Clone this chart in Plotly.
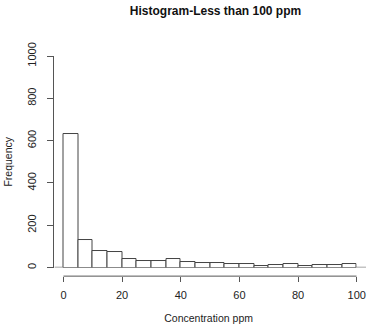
import plotly.graph_objects as go

bin_starts = [0, 5, 10, 15, 20, 25, 30, 35, 40, 45, 50, 55, 60, 65, 70, 75, 80, 85, 90, 95]
counts = [633, 131, 78, 75, 42, 33, 29, 42, 24, 20, 20, 17, 17, 9, 10, 15, 9, 10, 10, 15]
bin_width = 5
x_ticks = [0, 20, 40, 60, 80, 100]
y_ticks = [0, 200, 400, 600, 800, 1000]

W, H = 375, 333
font = "Liberation Sans, Arial, sans-serif"
axis_col = "#555555"
text_col = "#222222"

fig = go.Figure()
fig.add_trace(go.Bar(
    x=[s + bin_width / 2 for s in bin_starts],
    y=counts,
    width=bin_width,
    marker=dict(color="white", line=dict(color="#444444", width=1)),
    hoverinfo="x+y",
    cliponaxis=False,
))

fig.update_layout(
    width=W, height=H,
    margin=dict(l=0, r=0, t=0, b=0),
    paper_bgcolor="white", plot_bgcolor="white",
    showlegend=False,
    bargap=0,
    font=dict(family=font, size=11, color=text_col),
    title=dict(text="<b>Histogram-Less than 100 ppm</b>", x=215.5 / W, xanchor="center",
               y=1 - 11 / H, yanchor="middle", font=dict(size=12, color="#111111")),
    xaxis=dict(
        domain=[62 / W, 365.5 / W], range=[-1, 100],
        anchor="free", position=(H - 274.5) / H,
        showline=False,
        ticks="outside", ticklen=5, tickcolor=axis_col, tickwidth=1,
        tickvals=x_ticks, ticktext=[str(v) for v in x_ticks],
        showgrid=False, zeroline=False, ticklabelstandoff=4,
        title=dict(text="Concentration ppm", standoff=14, font=dict(size=10.5)),
    ),
    yaxis=dict(
        domain=[(H - 265.5) / H, (H - 44) / H], range=[0, 1000],
        anchor="free", position=54 / W,
        showline=True, linecolor=axis_col, linewidth=1,
        ticks="outside", ticklen=6, tickcolor=axis_col, tickwidth=1,
        tickvals=y_ticks, ticktext=[str(v) for v in y_ticks],
        tickangle=-90, showgrid=False, zeroline=False, ticklabelstandoff=6,
        title=dict(text="Frequency", standoff=10, font=dict(size=10.5)),
    ),
)
# R-style x axis line spanning only from first to last tick
fig.add_shape(type="line", xref="x", yref="paper", x0=x_ticks[0], x1=x_ticks[-1],
              y0=(H - 274.5) / H, y1=(H - 274.5) / H,
              line=dict(color=axis_col, width=1))
fig.add_shape(type="line", xref="paper", yref="y", x0=56 / W, x1=1, y0=0, y1=0,
              line=dict(color="#888888", width=1.5), layer="below")

fig.write_html("out.html")
